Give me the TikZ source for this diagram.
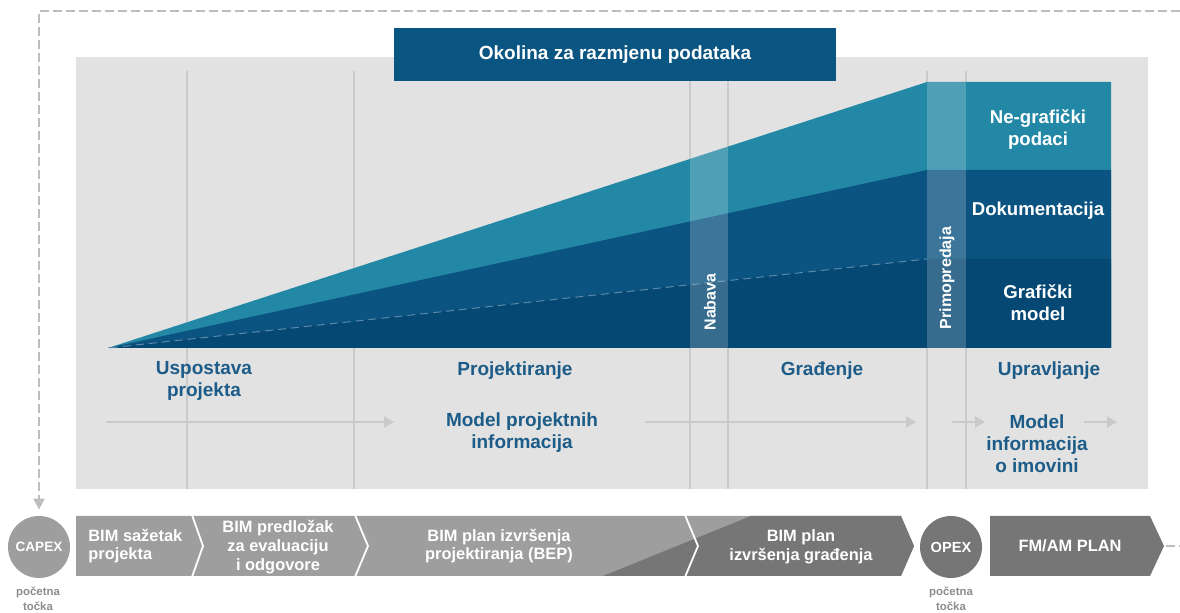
\documentclass[tikz,border=0pt]{standalone}
\usepackage{fontspec}
\setmainfont{Liberation Sans}
\usetikzlibrary{arrows.meta}
\definecolor{cBg}{HTML}{E1E2E1}
\definecolor{cVline}{HTML}{C9CACA}
\definecolor{cTeal}{HTML}{2388A5}
\definecolor{cMid}{HTML}{0B5380}
\definecolor{cDeep}{HTML}{064874}
\definecolor{cTitle}{HTML}{0B5582}
\definecolor{cPhase}{HTML}{1D5C88}
\definecolor{cLightGrey}{HTML}{9E9E9E}
\definecolor{cDarkGrey}{HTML}{767676}
\definecolor{cDash}{HTML}{BDBDBD}
\definecolor{cNote}{HTML}{8C8C8C}
\definecolor{cInnerDash}{HTML}{5A88A8}
\begin{document}
\begin{tikzpicture}[x=0.5pt,y=-0.5pt,
  phase/.style={text=cPhase, font=\bfseries\fontsize{9.5}{11}\selectfont, align=center, inner sep=0pt},
  layerlabel/.style={text=white, font=\bfseries\fontsize{9.3}{11}\selectfont, align=center, inner sep=0pt},
  vertlabel/.style={text=white, font=\bfseries\fontsize{8}{9}\selectfont, rotate=90, inner sep=0pt},
  striptext/.style={text=white, font=\bfseries\fontsize{8.2}{9.4}\selectfont, align=center, inner sep=0pt},
  notetext/.style={text=cNote, font=\bfseries\fontsize{5.7}{7.5}\selectfont, align=center, inner sep=0pt},
  flowarrow/.style={draw=cVline, line width=1pt, -{Triangle[length=5pt,width=5.5pt]}},
  gridline/.style={draw=cVline, line width=0.8pt},
  divider/.style={draw=white, line width=0.9pt},
  dashlink/.style={draw=cDash, line width=1pt, dash pattern=on 4.5pt off 2pt},
  startcircle/.style={circle, minimum size=31pt, inner sep=0pt, text=white}
]
\useasboundingbox (0,0) rectangle (1180,613);

% background
\fill[cBg] (76,57) rectangle (1148,489);

% grid lines
\foreach \x in {187,354,690,728,927,966}
  \draw[gridline] (\x,71) -- (\x,489);

% title
\node (title) [fill=cTitle, minimum width=221pt, minimum height=26.5pt, inner sep=0pt,
  text=white, font=\bfseries\fontsize{9.5}{11}\selectfont] at (615,54.5) {Okolina za razmjenu podataka};

% wedge layers
\fill[cTeal] (108,348) -- (927,82) -- (1111,82) -- (1111,348) -- cycle;
\fill[cMid] (108,348) -- (927,170) -- (1111,170) -- (1111,348) -- cycle;
\fill[cDeep] (108,348) -- (927,259) -- (1111,259) -- (1111,348) -- cycle;
\draw[cInnerDash, line width=0.5pt, dash pattern=on 4pt off 2.5pt] (110,347.8) -- (927,259);
\begin{scope}
  \clip (108,348) -- (927,82) -- (1111,82) -- (1111,348) -- cycle;
  \fill[white, opacity=0.2] (690,60) rectangle (728,348);
  \fill[white, opacity=0.2] (927,60) rectangle (966,348);
\end{scope}

% layer labels
\node (negraf) [layerlabel] at (1038,129) {Ne-grafički\\podaci};
\node (dokum) [layerlabel] at (1038,211) {Dokumentacija};
\node (grafmod) [layerlabel] at (1038,303) {Grafički\\model};
\node (nabava) [vertlabel] at (710,302) {Nabava};
\node (primo) [vertlabel] at (947,278) {Primopredaja};

% phases
\node (usp) [phase] at (204,381) {Uspostava\\projekta};
\node (proj) [phase] at (515,371) {Projektiranje};
\node (grad) [phase] at (822,371) {Građenje};
\node (uprav) [phase] at (1049,371) {Upravljanje};
\node (mpi) [phase] at (522,433) {Model projektnih\\informacija};
\node (mio) [phase] at (1037,444) {Model\\informacija\\o imovini};

% flow arrows
\coordinate (f1s) at (106,422);
\coordinate (f1e) at (394,422);
\coordinate (f2s) at (645,422);
\coordinate (f2e) at (916,422);
\coordinate (f3s) at (952,422);
\coordinate (f3e) at (985,422);
\coordinate (f4s) at (1084,422);
\coordinate (f4e) at (1117,422);
\draw[flowarrow] (f1s) -- (f1e);
\draw[flowarrow] (f2s) -- (f2e);
\draw[flowarrow] (f3s) -- (f3e);
\draw[flowarrow] (f4s) -- (f4e);

% bottom strip
\fill[cLightGrey] (76,516) -- (901,516) -- (914,546) -- (901,576) -- (76,576) -- cycle;
\fill[cDarkGrey] (603,576) -- (751,516) -- (901,516) -- (914,546) -- (901,576) -- cycle;
\draw[divider] (192,515) -- (203,546) -- (192,577);
\draw[divider] (355,515) -- (368,546) -- (355,577);
\draw[divider] (685,515) -- (698,546) -- (685,577);
\fill[cDarkGrey] (990,516) -- (1150,516) -- (1164,546) -- (1150,576) -- (990,576) -- cycle;

\node (sazetak) [striptext, align=left, anchor=west] at (88,546) {BIM sažetak\\projekta};
\node (predlozak) [striptext] at (278,547) {BIM predložak\\za evaluaciju\\i odgovore};
\node (bep) [striptext] at (499,546) {BIM plan izvršenja\\projektiranja (BEP)};
\node (gradplan) [striptext] at (801,547) {BIM plan\\izvršenja građenja};
\node (fmam) [striptext] at (1070,546) {FM/AM PLAN};

% start points
\node (capex) [startcircle, fill=cLightGrey, font=\bfseries\fontsize{6.8}{8}\selectfont] at (39,547) {CAPEX};
\node (opex) [startcircle, fill=cDarkGrey, font=\bfseries\fontsize{7.3}{8}\selectfont] at (951,547) {OPEX};
\node (note1) [notetext] at (38,599) {početna\\točka};
\node (note2) [notetext] at (951,599) {početna\\točka};

% dashed links
\coordinate (dashend) at (1180,11);
\draw[dashlink, -{Triangle[length=5.5pt,width=5.5pt]}] (dashend) -| ([yshift=3pt]capex.north);
\coordinate (fmtip) at (1166,546);
\coordinate (rightend) at (1180,546);
\draw[dashlink] (fmtip) -- (rightend);
\end{tikzpicture}
\end{document}
